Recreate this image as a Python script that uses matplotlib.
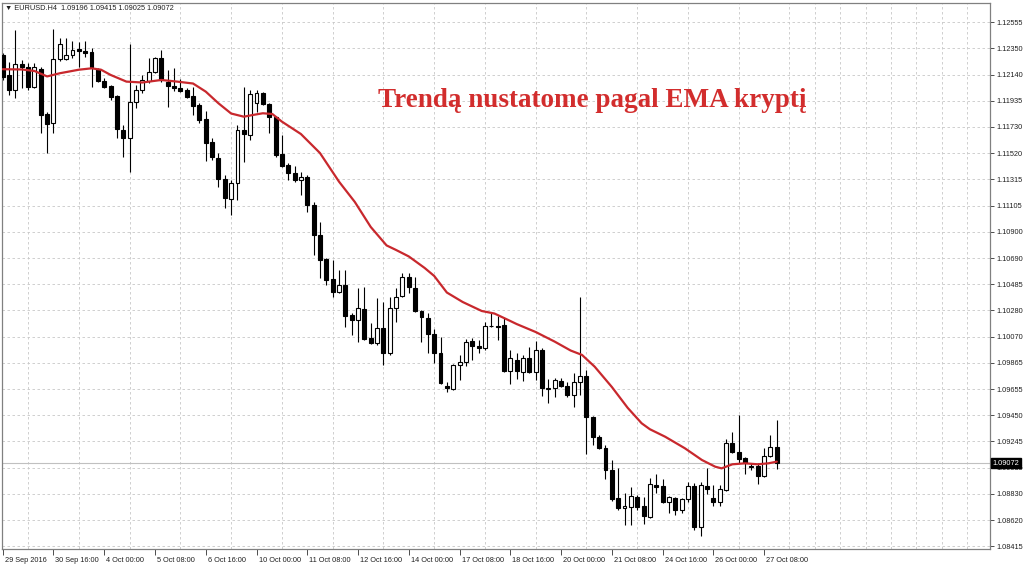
import numpy as np
import matplotlib
matplotlib.use('Agg')
import matplotlib.pyplot as plt
import matplotlib.transforms as mtransforms

plt.rcParams['font.family'] = ['Liberation Sans', 'DejaVu Sans']

# EURUSD H4 candles (bar 0 = first visible bar)
opens = [
    1.12297, 1.12139, 1.12020, 1.12225, 1.12202, 1.12044, 1.12186, 1.11830, 1.11759, 1.12265,
    1.12265, 1.12297, 1.12344, 1.12324, 1.12320, 1.12186, 1.12091, 1.12052, 1.11973, 1.11704,
    1.11641, 1.11925, 1.12020, 1.12091, 1.12162, 1.12273, 1.12083, 1.12052, 1.12036, 1.12020,
    1.11973, 1.11902, 1.11791, 1.11609, 1.11483, 1.11317, 1.11159, 1.11285, 1.11704, 1.11665,
    1.11917, 1.11996, 1.11909, 1.11807, 1.11514, 1.11428, 1.11364, 1.11309, 1.11333, 1.11112,
    1.10875, 1.10685, 1.10527, 1.10424, 1.10480, 1.10243, 1.10203, 1.10290, 1.10061, 1.10021,
    1.10140, 1.09942, 1.10298, 1.10393, 1.10543, 1.10456, 1.10274, 1.10219, 1.10092, 1.09942,
    1.09678, 1.09658, 1.09848, 1.09871, 1.10037, 1.09998, 1.09982, 1.10152, 1.10156, 1.10164,
    1.09800, 1.09887, 1.09792, 1.09903, 1.09792, 1.09966, 1.09658, 1.09666, 1.09721, 1.09682,
    1.09611, 1.09713, 1.09761, 1.09437, 1.09279, 1.09192, 1.09018, 1.08797, 1.08718, 1.08726,
    1.08805, 1.08734, 1.08647, 1.08900, 1.08892, 1.08765, 1.08797, 1.08702, 1.08789, 1.08892,
    1.08568, 1.08892, 1.08797, 1.08765, 1.08860, 1.09231, 1.09160, 1.09113, 1.09050, 1.09050,
    1.08971, 1.09129, 1.09196]
highs = [
    1.12312, 1.12241, 1.12494, 1.12257, 1.12233, 1.12233, 1.12202, 1.11846, 1.12502, 1.12431,
    1.12431, 1.12407, 1.12399, 1.12407, 1.12352, 1.12194, 1.12115, 1.12060, 1.11981, 1.11744,
    1.12383, 1.12060, 1.12139, 1.12273, 1.12281, 1.12336, 1.12178, 1.12194, 1.12107, 1.12036,
    1.12044, 1.11917, 1.11854, 1.11641, 1.11522, 1.11349, 1.11309, 1.11744, 1.12044, 1.12020,
    1.12020, 1.12004, 1.11917, 1.11815, 1.11665, 1.11443, 1.11420, 1.11372, 1.11349, 1.11135,
    1.10977, 1.10693, 1.10677, 1.10598, 1.10598, 1.10258, 1.10456, 1.10464, 1.10179, 1.10377,
    1.10345, 1.10385, 1.10456, 1.10574, 1.10574, 1.10543, 1.10282, 1.10258, 1.10132, 1.10069,
    1.09713, 1.09855, 1.09927, 1.10053, 1.10061, 1.10045, 1.10187, 1.10258, 1.10235, 1.10219,
    1.09966, 1.09942, 1.09927, 1.09990, 1.10037, 1.09982, 1.09737, 1.09745, 1.09745, 1.09713,
    1.09784, 1.10385, 1.09808, 1.09445, 1.09295, 1.09216, 1.09097, 1.09034, 1.08836, 1.08884,
    1.08821, 1.08805, 1.08955, 1.08986, 1.08947, 1.08813, 1.08805, 1.08797, 1.08923, 1.08915,
    1.08923, 1.09034, 1.08900, 1.08900, 1.09263, 1.09318, 1.09453, 1.09121, 1.09073, 1.09073,
    1.09192, 1.09295, 1.09415]
lows = [
    1.12099, 1.11981, 1.11957, 1.12036, 1.12020, 1.12036, 1.11680, 1.11522, 1.11680, 1.12249,
    1.12257, 1.12273, 1.12202, 1.12281, 1.12044, 1.12083, 1.12036, 1.11941, 1.11641, 1.11491,
    1.11372, 1.11878, 1.11996, 1.12075, 1.12154, 1.12083, 1.11886, 1.12012, 1.12004, 1.11957,
    1.11823, 1.11759, 1.11459, 1.11467, 1.11254, 1.11088, 1.11033, 1.11151, 1.11451, 1.11625,
    1.11846, 1.11902, 1.11680, 1.11491, 1.11412, 1.11309, 1.11293, 1.11191, 1.11056, 1.10717,
    1.10535, 1.10480, 1.10385, 1.10416, 1.10148, 1.10085, 1.10029, 1.10045, 1.10013, 1.10006,
    1.09848, 1.09927, 1.10187, 1.10385, 1.10416, 1.10266, 1.10029, 1.09942, 1.09863, 1.09697,
    1.09634, 1.09650, 1.09729, 1.09840, 1.09887, 1.09942, 1.09966, 1.10148, 1.10045, 1.09792,
    1.09697, 1.09737, 1.09721, 1.09784, 1.09729, 1.09603, 1.09547, 1.09595, 1.09674, 1.09595,
    1.09516, 1.09611, 1.09144, 1.09216, 1.09184, 1.08947, 1.08773, 1.08702, 1.08584, 1.08584,
    1.08702, 1.08591, 1.08639, 1.08836, 1.08757, 1.08678, 1.08663, 1.08678, 1.08765, 1.08544,
    1.08497, 1.08828, 1.08734, 1.08734, 1.08852, 1.09152, 1.09073, 1.08986, 1.09018, 1.08907,
    1.08963, 1.09121, 1.09025]
closes = [
    1.12123, 1.12020, 1.12225, 1.12202, 1.12044, 1.12202, 1.11823, 1.11751, 1.12265, 1.12383,
    1.12297, 1.12336, 1.12328, 1.12312, 1.12202, 1.12091, 1.12044, 1.11965, 1.11712, 1.11641,
    1.11925, 1.12020, 1.12099, 1.12162, 1.12273, 1.12099, 1.12052, 1.12036, 1.12012, 1.11965,
    1.11894, 1.11783, 1.11601, 1.11491, 1.11317, 1.11167, 1.11285, 1.11704, 1.11672, 1.11988,
    1.11996, 1.11909, 1.11807, 1.11507, 1.11420, 1.11364, 1.11309, 1.11333, 1.11112, 1.10875,
    1.10677, 1.10519, 1.10424, 1.10480, 1.10235, 1.10203, 1.10298, 1.10053, 1.10021, 1.10140,
    1.09942, 1.10298, 1.10385, 1.10543, 1.10464, 1.10274, 1.10227, 1.10092, 1.09942, 1.09705,
    1.09666, 1.09848, 1.09871, 1.10029, 1.09998, 1.09982, 1.10156, 1.10156, 1.10148, 1.09800,
    1.09903, 1.09800, 1.09903, 1.09792, 1.09966, 1.09666, 1.09666, 1.09729, 1.09682, 1.09611,
    1.09713, 1.09761, 1.09437, 1.09279, 1.09192, 1.09018, 1.08789, 1.08718, 1.08734, 1.08813,
    1.08726, 1.08655, 1.08907, 1.08884, 1.08765, 1.08805, 1.08702, 1.08789, 1.08892, 1.08568,
    1.08900, 1.08868, 1.08765, 1.08868, 1.09231, 1.09160, 1.09105, 1.09073, 1.09042, 1.08971,
    1.09129, 1.09196, 1.09072]

# EMA line, sampled along the chart (bar position, value)
ema_bar = [0, 3, 5, 7, 9, 12, 14, 15.5, 17, 19.5, 22, 25, 27.5, 30, 32, 34, 36, 38, 39.5, 41,
           42.5, 44, 47, 50, 53, 55.5, 58, 60.5, 62, 64, 66.5, 68, 70, 72.5, 75.5, 77.5, 79.5, 81,
           84, 87, 89.5, 91.3, 93.3, 96, 98.5, 100.7, 102, 104.4, 107.5, 110.2, 112.3, 113.3, 115,
           117, 119, 120.7, 122]
ema_val = [1.12184, 1.12182, 1.12170, 1.12127, 1.12152, 1.12180, 1.12191, 1.12180, 1.12139, 1.12086,
           1.12079, 1.12099, 1.12086, 1.12071, 1.12007, 1.11915, 1.11834, 1.11809, 1.11823, 1.11836,
           1.11830, 1.11770, 1.11672, 1.11522, 1.11296, 1.11135, 1.10938, 1.10792, 1.10756, 1.10705,
           1.10614, 1.10551, 1.10420, 1.10345, 1.10274, 1.10254, 1.10207, 1.10171, 1.10108, 1.10032,
           1.09962, 1.09927, 1.09834, 1.09674, 1.09509, 1.09387, 1.09340, 1.09281, 1.09190, 1.09097,
           1.09044, 1.09031, 1.09063, 1.09071, 1.09063, 1.09071, 1.09084]

y_ticks = [1.12555, 1.12350, 1.12140, 1.11935, 1.11730, 1.11520, 1.11315, 1.11105, 1.10900, 1.10690,
           1.10485, 1.10280, 1.10070, 1.09865, 1.09655, 1.09450, 1.09245, 1.09035, 1.08830, 1.08620,
           1.08415]
x_labels = ['29 Sep 2016', '30 Sep 16:00', '4 Oct 00:00', '5 Oct 08:00', '6 Oct 16:00',
            '10 Oct 00:00', '11 Oct 08:00', '12 Oct 16:00', '14 Oct 00:00', '17 Oct 08:00',
            '18 Oct 16:00', '20 Oct 00:00', '21 Oct 08:00', '24 Oct 16:00', '26 Oct 00:00',
            '27 Oct 08:00']

o = np.array(opens)
h = np.array(highs)
l = np.array(lows)
c = np.array(closes)
bars = np.arange(len(o))
up = c >= o

fig = plt.figure(figsize=(10.24, 5.66), dpi=100)
ax = fig.add_axes([2 / 1024, 17 / 566, 988 / 1024, 546 / 566])
ax.set_xlim(-0.11, 155.6)
ax.set_ylim(1.08394, 1.12707)

# grid: horizontal at every price label, vertical every 4 bars
grid_kw = dict(color='#c8c8c8', linestyle=(0, (3, 3)), linewidth=0.6)
ax.set_yticks(y_ticks)
ax.set_yticklabels(['%.5f' % v for v in y_ticks])
ax.yaxis.tick_right()
ax.set_xticks(np.arange(0, 8 * len(x_labels), 8))
ax.set_xticklabels(x_labels, ha='left')
ax.set_xticks(np.arange(0, 156, 4), minor=True)
ax.grid(which='minor', axis='x', **grid_kw)
ax.grid(which='major', axis='y', **grid_kw)
ax.set_axisbelow(True)

ax.tick_params(axis='y', which='major', direction='out', length=3, width=0.6,
               color='#303030', labelsize=5.3, pad=1.5, labelcolor='#202020')
ax.tick_params(axis='x', which='major', direction='out', length=4, width=0.6,
               color='#303030', labelsize=5.3, pad=1.5, labelcolor='#202020')
ax.tick_params(axis='x', which='minor', length=0)
shift = mtransforms.ScaledTranslation(2 / 100, 0, fig.dpi_scale_trans)
for lab in ax.get_xticklabels():
    lab.set_transform(lab.get_transform() + shift)

for sp in ax.spines.values():
    sp.set_color('#808080')
    sp.set_linewidth(0.9)

# current price line
ax.axhline(c[-1], color='#c0c0c0', linewidth=0.8, zorder=1)

# candles
ax.vlines(bars, l, h, color='black', linewidth=0.8, zorder=2.5)
body = np.maximum(np.abs(c - o), 0.000025)
ax.bar(bars, body, bottom=np.minimum(o, c), width=0.62,
       color=np.where(up, 'white', 'black'), edgecolor='black', linewidth=0.8, zorder=3)

# EMA
ax.plot(ema_bar, ema_val, color='#c8282d', linewidth=1.6, zorder=4,
        solid_capstyle='round', solid_joinstyle='round')

# price box on the right scale
ax.text(1.0025, c[-1], '%.5f' % c[-1], transform=ax.get_yaxis_transform(),
        fontsize=5.3, color='white', va='center', ha='left', zorder=10, clip_on=False,
        bbox=dict(facecolor='black', edgecolor='black', pad=1.2))

fig.text(5 / 1024, 1 - 8.5 / 566, '\u25bc EURUSD.H4  1.09196 1.09415 1.09025 1.09072',
         fontsize=5.3, color='#202020', va='center', ha='left')
fig.text(378 / 1024, 1 - 101 / 566, 'Trendą nustatome pagal EMA kryptį',
         fontsize=19.5, fontweight='bold', family='Liberation Serif', color='#d22d2d',
         va='center', ha='left')

fig.savefig('out.png', dpi=100)
